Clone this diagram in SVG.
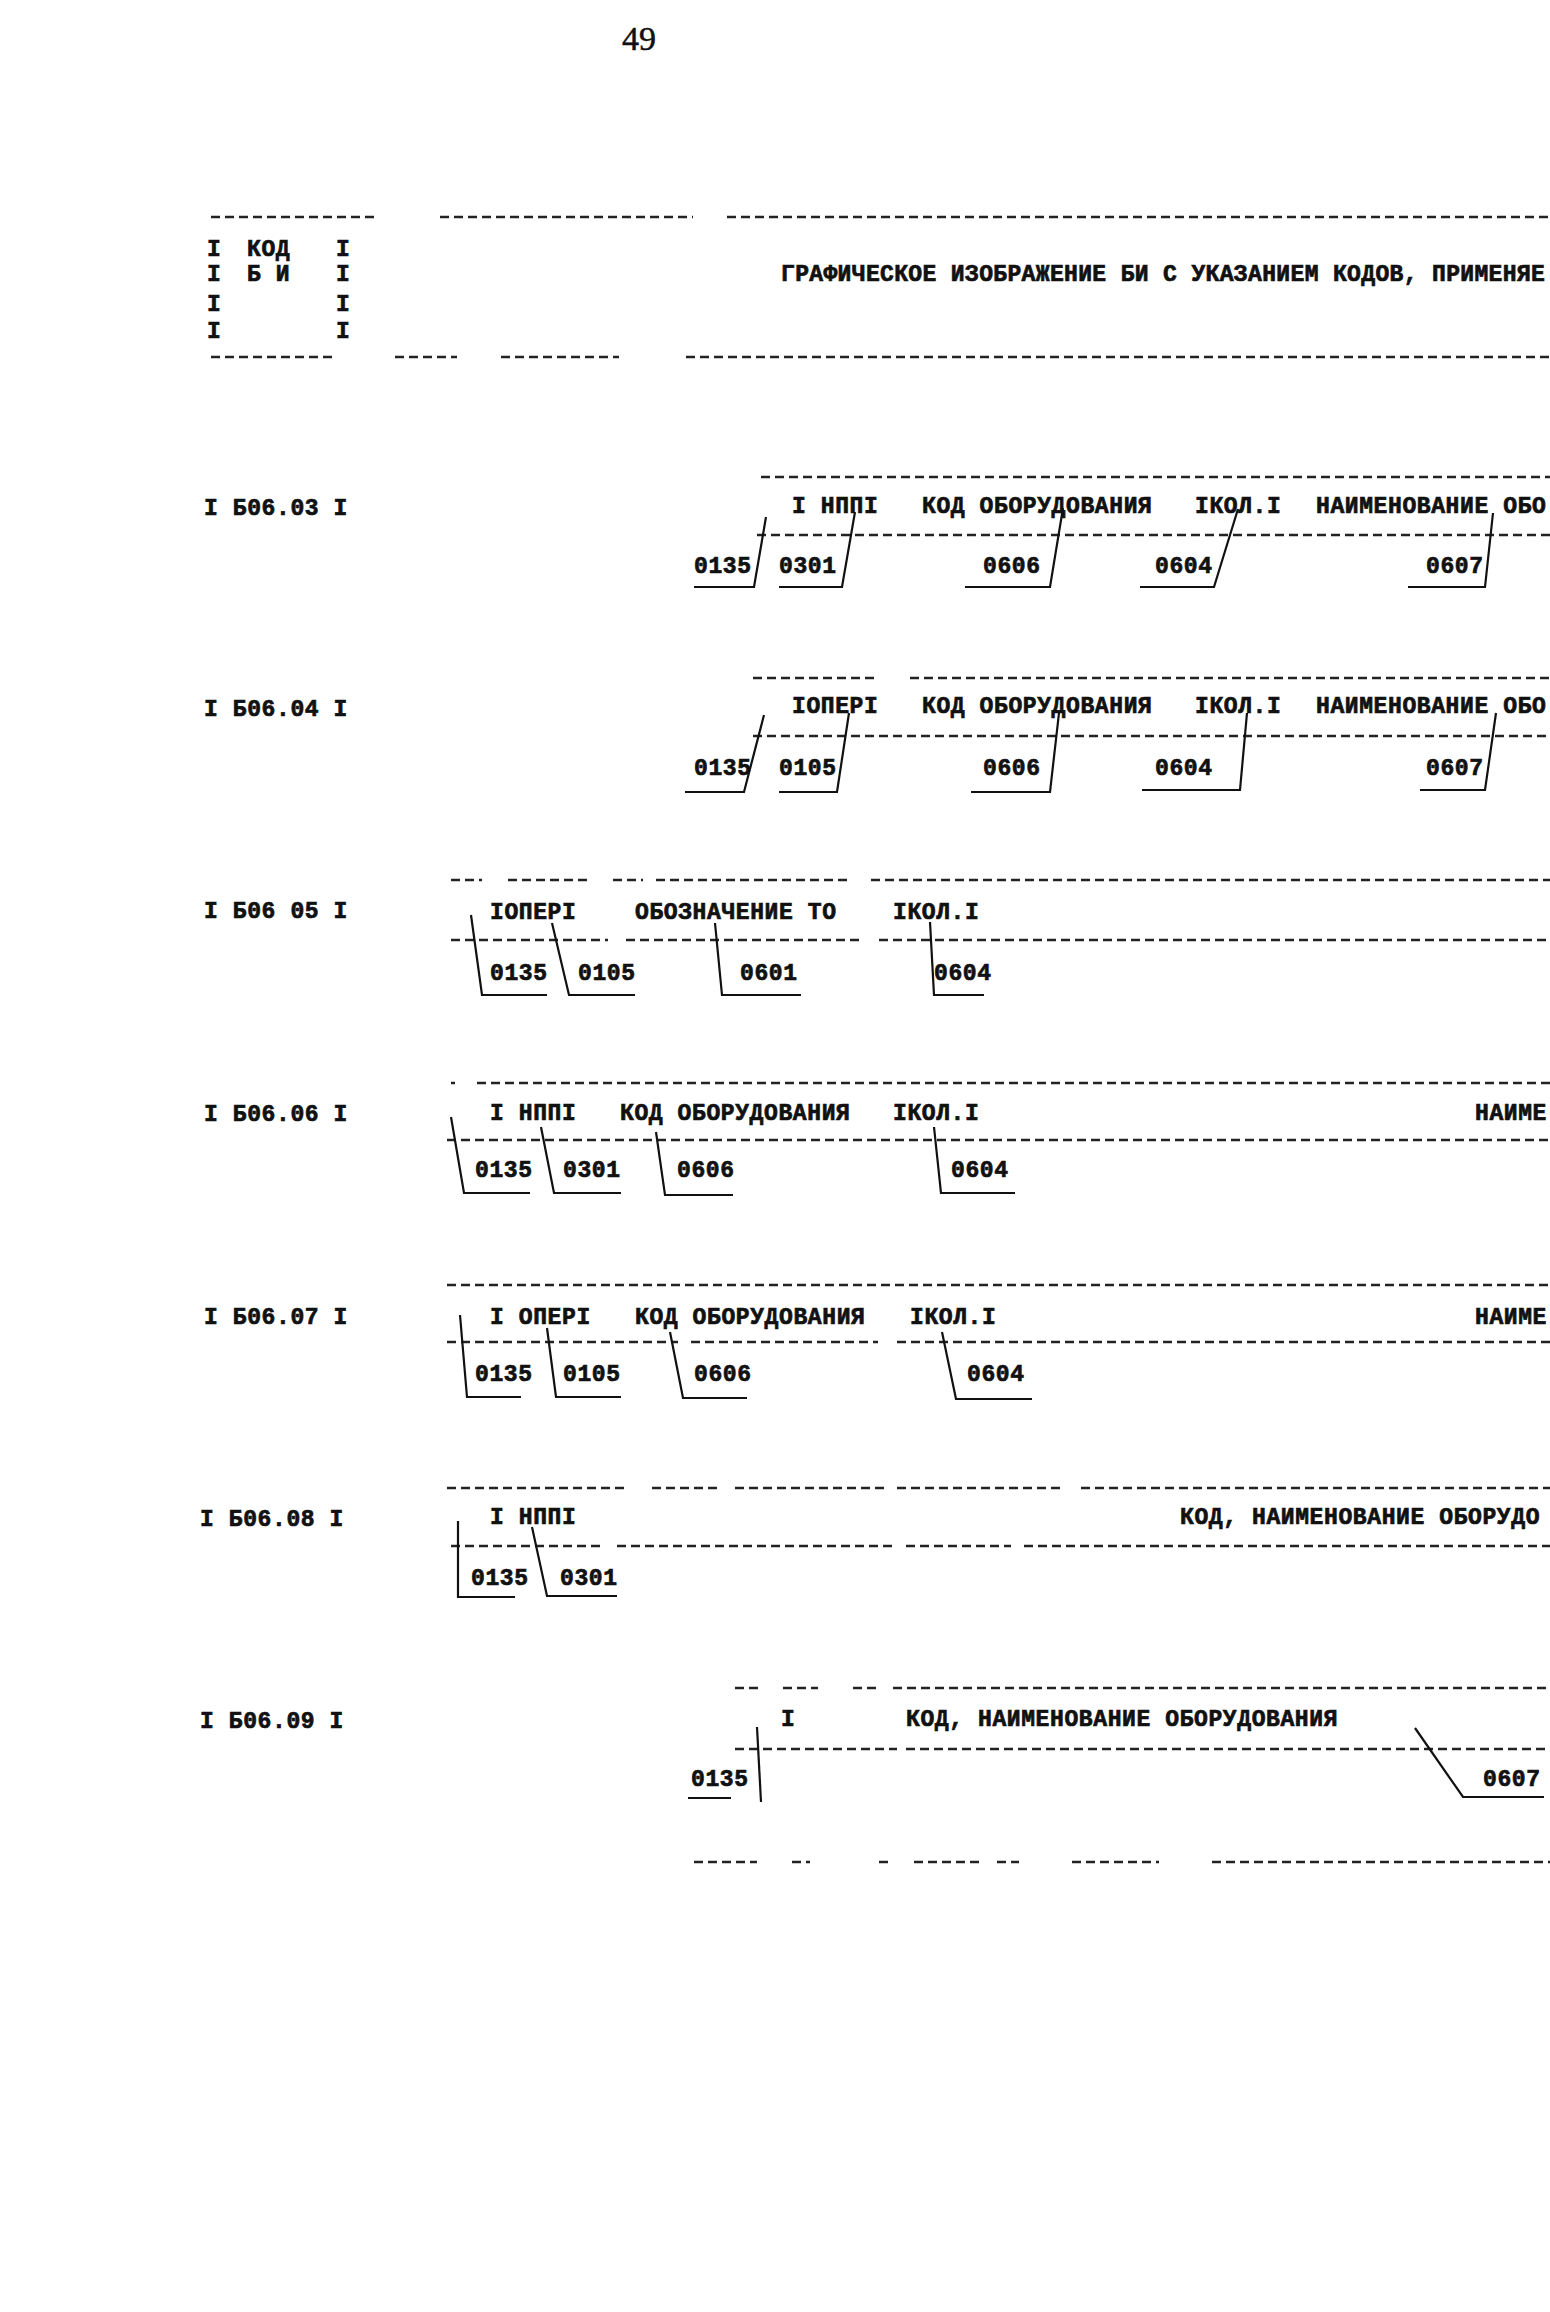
<svg xmlns="http://www.w3.org/2000/svg" width="1550" height="2312" viewBox="0 0 1550 2312">
<style>
.t{font-family:"Liberation Mono","DejaVu Sans Mono",monospace;font-weight:bold;font-size:23px;letter-spacing:0.6px;fill:#111;stroke:#111;stroke-width:0.7}
.pg{font-family:"Liberation Serif",serif;font-size:34px;fill:#111;stroke:#111;stroke-width:0.5}
.d{stroke:#222;stroke-width:2.5;stroke-dasharray:9 5;fill:none}
.c{stroke:#111;stroke-width:2.2;fill:none}
</style>
<rect width="1550" height="2312" fill="#fff"/>
<text class="pg" x="639" y="50" text-anchor="middle">49</text>

<g id="rules">
<path class="d" d="M211,217H376M440,217H693M727,217H1550"/>
<path class="d" d="M211,357H332M395,357H457M501,357H619M686,357H1550"/>
<path class="d" d="M761,477H1550M757,535H1550"/>
<path class="d" d="M753,678H879M910,678H1550M753,736H1550"/>
<path class="d" d="M451,880H482M508,880H591M613,880H643M656,880H849M871,880H1550M451,940H608M626,940H862M879,940H1550"/>
<path class="d" d="M451,1083H455M477,1083H1550M447,1140H1550"/>
<path class="d" d="M447,1285H1550M447,1342H678M691,1342H878M897,1342H1550"/>
<path class="d" d="M447,1488H626M652,1488H722M735,1488H888M897,1488H1063M1081,1488H1550M451,1546H600M617,1546H897M906,1546H1011M1024,1546H1550"/>
<path class="d" d="M735,1688H761M783,1688H818M853,1688H879M893,1688H1550M735,1749H897M906,1749H1550"/>
<path class="d" d="M694,1862H757M792,1862H810M879,1862H888M914,1862H984M997,1862H1019M1072,1862H1159M1212,1862H1550"/>
</g>

<g id="header">
<text class="t" x="207" y="256">I</text><text class="t" x="247" y="256">КОД</text><text class="t" x="336" y="256">I</text>
<text class="t" x="207" y="281">I</text><text class="t" x="247" y="281">Б И</text><text class="t" x="336" y="281">I</text>
<text class="t" x="207" y="311">I</text><text class="t" x="336" y="311">I</text>
<text class="t" x="207" y="338">I</text><text class="t" x="336" y="338">I</text>
<text class="t" x="781" y="281" style="letter-spacing:0.35px">ГРАФИЧЕСКОЕ ИЗОБРАЖЕНИЕ БИ С УКАЗАНИЕМ КОДОВ, ПРИМЕНЯЕ</text>
</g>

<g id="b06-03">
<text class="t" x="204" y="515">I Б06.03 I</text>
<text class="t" x="792" y="513">I НППI</text>
<text class="t" x="922" y="513">КОД ОБОРУДОВАНИЯ</text>
<text class="t" x="1195" y="513">IКОЛ.I</text>
<text class="t" x="1316" y="513">НАИМЕНОВАНИЕ ОБО</text>
<text class="t" x="694" y="573">0135</text>
<text class="t" x="779" y="573">0301</text>
<text class="t" x="983" y="573">0606</text>
<text class="t" x="1155" y="573">0604</text>
<text class="t" x="1426" y="573">0607</text>
</g>

<g id="b06-04">
<text class="t" x="204" y="716">I Б06.04 I</text>
<text class="t" x="792" y="713">IОПЕРI</text>
<text class="t" x="922" y="713">КОД ОБОРУДОВАНИЯ</text>
<text class="t" x="1195" y="713">IКОЛ.I</text>
<text class="t" x="1316" y="713">НАИМЕНОВАНИЕ ОБО</text>
<text class="t" x="694" y="775">0135</text>
<text class="t" x="779" y="775">0105</text>
<text class="t" x="983" y="775">0606</text>
<text class="t" x="1155" y="775">0604</text>
<text class="t" x="1426" y="775">0607</text>
</g>

<g id="b06-05">
<text class="t" x="204" y="918">I Б06 05 I</text>
<text class="t" x="490" y="919">IОПЕРI</text>
<text class="t" x="635" y="919">ОБОЗНАЧЕНИЕ ТО</text>
<text class="t" x="893" y="919">IКОЛ.I</text>
<text class="t" x="490" y="980">0135</text>
<text class="t" x="578" y="980">0105</text>
<text class="t" x="740" y="980">0601</text>
<text class="t" x="934" y="980">0604</text>
</g>

<g id="b06-06">
<text class="t" x="204" y="1121">I Б06.06 I</text>
<text class="t" x="490" y="1120">I НППI</text>
<text class="t" x="620" y="1120">КОД ОБОРУДОВАНИЯ</text>
<text class="t" x="893" y="1120">IКОЛ.I</text>
<text class="t" x="1475" y="1120">НАИМЕ</text>
<text class="t" x="475" y="1177">0135</text>
<text class="t" x="563" y="1177">0301</text>
<text class="t" x="677" y="1177">0606</text>
<text class="t" x="951" y="1177">0604</text>
</g>

<g id="b06-07">
<text class="t" x="204" y="1324">I Б06.07 I</text>
<text class="t" x="490" y="1324">I ОПЕРI</text>
<text class="t" x="635" y="1324">КОД ОБОРУДОВАНИЯ</text>
<text class="t" x="910" y="1324">IКОЛ.I</text>
<text class="t" x="1475" y="1324">НАИМЕ</text>
<text class="t" x="475" y="1381">0135</text>
<text class="t" x="563" y="1381">0105</text>
<text class="t" x="694" y="1381">0606</text>
<text class="t" x="967" y="1381">0604</text>
</g>

<g id="b06-08">
<text class="t" x="200" y="1526">I Б06.08 I</text>
<text class="t" x="490" y="1524">I НППI</text>
<text class="t" x="1180" y="1524">КОД, НАИМЕНОВАНИЕ ОБОРУДО</text>
<text class="t" x="471" y="1585">0135</text>
<text class="t" x="560" y="1585">0301</text>
</g>

<g id="b06-09">
<text class="t" x="200" y="1728">I Б06.09 I</text>
<text class="t" x="781" y="1726">I</text>
<text class="t" x="906" y="1726">КОД, НАИМЕНОВАНИЕ ОБОРУДОВАНИЯ</text>
<text class="t" x="691" y="1786">0135</text>
<text class="t" x="1483" y="1786">0607</text>
</g>

<g id="connectors">
<path class="c" d="M766,517L754,587L694,587"/>
<path class="c" d="M855,512L842,587L779,587"/>
<path class="c" d="M1063,508L1050,587L965,587"/>
<path class="c" d="M1238,509L1214,587L1140,587"/>
<path class="c" d="M1493,513L1485,587L1408,587"/>

<path class="c" d="M764,715L744,792L685,792"/>
<path class="c" d="M849,713L837,792L779,792"/>
<path class="c" d="M1059,713L1050,792L971,792"/>
<path class="c" d="M1247,713L1240,790L1142,790"/>
<path class="c" d="M1496,713L1485,790L1420,790"/>

<path class="c" d="M471,915L482,995L547,995"/>
<path class="c" d="M552,923L569,995L635,995"/>
<path class="c" d="M715,923L722,995L801,995"/>
<path class="c" d="M930,922L934,995L984,995"/>

<path class="c" d="M451,1117L464,1193L530,1193"/>
<path class="c" d="M541,1127L554,1193L621,1193"/>
<path class="c" d="M656,1132L665,1195L733,1195"/>
<path class="c" d="M934,1127L941,1193L1015,1193"/>

<path class="c" d="M460,1315L467,1397L521,1397"/>
<path class="c" d="M547,1328L556,1397L621,1397"/>
<path class="c" d="M670,1332L683,1398L747,1398"/>
<path class="c" d="M942,1332L956,1399L1032,1399"/>

<path class="c" d="M458,1521L458,1597L515,1597"/>
<path class="c" d="M532,1527L547,1596L617,1596"/>

<path class="c" d="M757,1727L761,1802"/>
<path class="c" d="M688,1798H731"/>
<path class="c" d="M1415,1728L1463,1797L1544,1797"/>
</g>
</svg>
